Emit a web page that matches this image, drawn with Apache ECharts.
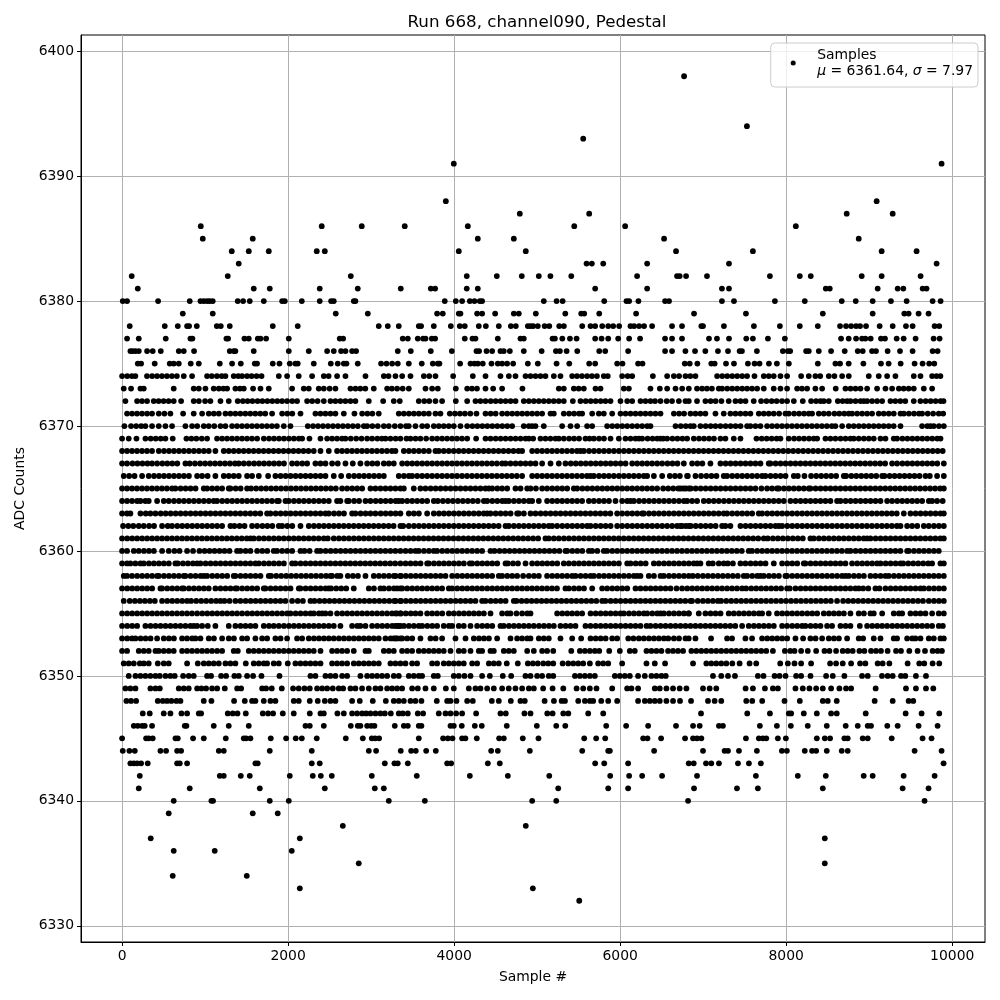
<!DOCTYPE html>
<html>
<head>
<meta charset="utf-8">
<title>Run 668, channel090, Pedestal</title>
<script src="https://cdn.jsdelivr.net/npm/echarts@6/dist/echarts.min.js"></script>
<style>
html, body { margin: 0; padding: 0; background: #fff; }
#chart { width: 1000px; height: 1000px; }
</style>
</head>
<body>
<div id="chart"></div>
<script>
var xTicks = [0, 2000, 4000, 6000, 8000, 10000];
var yTicks = [6330, 6340, 6350, 6360, 6370, 6380, 6390, 6400];

// sample numbers, one array per ADC level
var adc6398 = [6770];
var adc6394 = [7527];
var adc6393 = [5555];
var adc6391 = [3996, 9872];
var adc6388 = [3900, 9090];
var adc6387 = [4791, 5627, 8729, 9283];
var adc6386 = [948, 2405, 2887, 3405, 4165, 5447, 6060, 8116];
var adc6385 = [972, 1574, 4285, 4719, 6529, 8874];
var adc6384 = [1321, 1526, 1767, 2345, 2442, 4056, 4863, 6673, 7599, 9150, 9571];
var adc6383 = [1405, 5595, 5659, 5796, 6325, 7311, 9812];
var adc6382 = [116, 1273, 2755, 4152, 4514, 4815, 5020, 5160, 5411, 6204, 6685, 6717, 6794, 7046, 7804, 8164, 8296, 8910, 9150, 9619];
var adc6381 = [189, 1586, 1779, 2381, 2839, 3357, 3719, 3771, 4152, 4285, 5699, 6325, 7226, 7311, 8477, 8525, 9102, 9343, 9411, 9644, 9691];
var adc6380 = [8, 60, 434, 815, 944, 984, 1024, 1056, 1092, 1393, 1458, 1538, 1707, 1928, 1960, 2165, 2381, 2518, 2550, 2791, 2811, 3887, 4020, 4096, 4189, 4245, 4309, 4337, 5080, 5234, 5307, 5808, 6076, 6108, 6220, 6541, 6589, 7226, 7371, 7864, 8224, 8669, 8838, 9042, 9262, 9451, 9764, 9860];
var adc6379 = [731, 1092, 2574, 2960, 3795, 3863, 4056, 4076, 4277, 4337, 4494, 4719, 4779, 4984, 5339, 5531, 5567, 5748, 6192, 6890, 7515, 8441, 9042, 9423, 9475, 9595, 9715];
var adc6378 = [92, 514, 671, 783, 807, 900, 1141, 1189, 1297, 1815, 2116, 3092, 3201, 3333, 3574, 3602, 3755, 3960, 4068, 4128, 4297, 4382, 4538, 4683, 4743, 4888, 4920, 4952, 5008, 5090, 5146, 5266, 5322, 5543, 5643, 5699, 5784, 5856, 5916, 5988, 6124, 6168, 6228, 6288, 6385, 6625, 6745, 6978, 6998, 7250, 7611, 7924, 8164, 8381, 8649, 8721, 8782, 8842, 8890, 8962, 9126, 9283, 9443, 9523, 9788, 9844];
var adc6377 = [60, 201, 526, 823, 847, 1257, 1277, 1474, 1526, 1635, 1667, 1735, 2008, 2622, 2663, 3381, 3442, 3562, 3626, 3655, 3731, 3771, 4128, 4221, 4257, 4526, 4799, 4839, 5186, 5214, 5303, 5395, 5475, 5699, 5776, 5856, 5976, 6108, 6240, 6541, 6625, 6745, 7070, 7166, 7311, 7519, 7599, 7780, 7984, 8661, 8753, 8842, 8914, 8954, 9018, 9142, 9190, 9331, 9415, 9559, 9776, 9848];
var adc6376 = [100, 129, 161, 201, 301, 369, 466, 683, 743, 867, 1297, 1345, 1365, 1586, 2008, 2249, 2470, 2550, 2638, 2691, 2771, 2819, 3321, 3478, 3719, 3972, 4269, 4301, 4390, 4458, 4558, 4598, 4671, 4839, 5054, 5226, 5274, 5355, 5483, 5748, 5820, 6096, 6541, 6625, 6786, 6902, 7026, 7178, 7299, 7439, 7467, 7647, 7960, 8020, 8048, 8240, 8272, 8393, 8541, 8705, 8862, 8922, 9034, 9082, 9222, 9371, 9523, 9764, 9824];
var adc6375 = [189, 229, 393, 574, 622, 683, 827, 924, 1177, 1325, 1430, 1598, 1626, 1815, 1896, 2020, 2088, 2116, 2309, 2514, 2598, 2671, 2703, 2839, 3120, 3185, 3253, 3321, 3454, 3610, 3743, 3803, 3823, 4072, 4197, 4245, 4285, 4345, 4450, 4526, 4578, 4638, 4711, 4888, 5008, 5234, 5387, 5627, 5699, 5964, 6028, 6216, 6269, 6778, 6838, 6930, 7098, 7138, 7275, 7371, 7539, 7619, 7679, 7792, 7888, 8032, 8381, 8593, 8649, 8753, 8930, 9142, 9234, 9379, 9547, 9643, 9723, 9784];
var adc6374 = [0, 62, 118, 160, 300, 362, 421, 480, 540, 600, 660, 743, 843, 1024, 1080, 1142, 1200, 1245, 1345, 1400, 1446, 1506, 1560, 1620, 1680, 1888, 1988, 2128, 2289, 2430, 2488, 2590, 2691, 2932, 3153, 3210, 3293, 3374, 3474, 3635, 3700, 3775, 3988, 4225, 4378, 4558, 4659, 4739, 4860, 4920, 4980, 5040, 5100, 5201, 5281, 5422, 5480, 5540, 5602, 5660, 5720, 5803, 5851, 6024, 6090, 6145, 6394, 6566, 6647, 6710, 6787, 6845, 6907, 7168, 7230, 7290, 7350, 7410, 7470, 7529, 7618, 7730, 7790, 7850, 7931, 8011, 8180, 8272, 8352, 8410, 8513, 8581, 8674, 8754, 8995, 9115, 9216, 9316, 9537, 9618, 9758, 9810, 9858];
var adc6373 = [20, 108, 221, 261, 622, 863, 924, 1004, 1104, 1165, 1220, 1265, 1365, 1420, 1466, 1578, 1667, 1767, 2048, 2189, 2249, 2369, 2430, 2500, 2570, 2751, 2812, 2870, 2930, 3032, 3193, 3250, 3313, 3380, 3454, 3655, 3735, 3803, 4020, 4157, 4215, 4275, 4378, 4470, 4578, 4823, 5261, 5321, 5442, 5500, 5562, 5703, 5763, 6044, 6105, 6365, 6478, 6566, 6667, 6747, 6827, 6926, 6987, 7045, 7105, 7188, 7228, 7290, 7350, 7410, 7470, 7529, 7589, 7650, 7730, 7850, 7931, 8011, 8132, 8190, 8252, 8352, 8433, 8597, 8714, 8775, 8835, 8895, 8975, 9095, 9196, 9276, 9357, 9415, 9475, 9537, 9658, 9758];
var adc6372 = [40, 181, 240, 301, 381, 440, 500, 560, 622, 711, 863, 925, 1000, 1064, 1185, 1285, 1393, 1455, 1512, 1570, 1632, 1690, 1750, 1810, 1870, 1928, 1988, 2050, 2108, 2229, 2290, 2355, 2430, 2510, 2570, 2630, 2690, 2751, 2811, 2972, 3145, 3273, 3345, 3574, 3640, 3700, 3775, 3855, 4020, 4157, 4257, 4317, 4378, 4440, 4500, 4560, 4620, 4680, 4740, 4839, 4900, 4960, 5020, 5080, 5140, 5200, 5260, 5321, 5430, 5522, 5585, 5645, 5705, 5765, 5823, 5884, 6004, 6085, 6145, 6245, 6305, 6365, 6420, 6486, 6560, 6625, 6707, 6787, 6827, 6926, 7027, 7090, 7150, 7220, 7308, 7389, 7450, 7510, 7609, 7698, 7762, 7825, 7885, 7950, 8011, 8092, 8200, 8300, 8360, 8413, 8453, 8513, 8622, 8680, 8734, 8774, 8835, 8895, 8935, 8975, 9035, 9095, 9156, 9256, 9315, 9375, 9435, 9537, 9617, 9680, 9740, 9800, 9860, 9895];
var adc6371 = [60, 120, 180, 240, 301, 361, 442, 510, 582, 735, 863, 964, 1044, 1105, 1165, 1245, 1305, 1365, 1425, 1485, 1545, 1605, 1665, 1725, 1807, 1928, 1990, 2050, 2149, 2329, 2390, 2450, 2510, 2570, 2671, 2799, 2892, 2955, 3015, 3092, 3333, 3394, 3455, 3515, 3575, 3635, 3695, 3775, 3835, 3948, 4010, 4070, 4130, 4195, 4269, 4378, 4440, 4500, 4578, 4639, 4700, 4760, 4820, 4880, 4940, 5000, 5060, 5161, 5201, 5321, 5385, 5445, 5505, 5542, 5663, 5743, 5803, 5904, 6004, 6065, 6125, 6185, 6245, 6305, 6365, 6425, 6486, 6647, 6710, 6770, 6847, 6907, 6967, 7027, 7148, 7248, 7328, 7389, 7449, 7510, 7569, 7670, 7730, 7790, 7850, 7915, 7991, 8031, 8095, 8155, 8215, 8272, 8312, 8393, 8453, 8513, 8581, 8640, 8700, 8754, 8794, 8855, 8915, 8975, 9035, 9115, 9175, 9236, 9296, 9377, 9417, 9478, 9540, 9600, 9637, 9705, 9770, 9838, 9891];
var adc6370 = [28, 108, 170, 230, 281, 361, 442, 522, 602, 763, 843, 905, 984, 1044, 1110, 1185, 1245, 1325, 1385, 1445, 1505, 1565, 1625, 1685, 1745, 1805, 1865, 1948, 2028, 2237, 2300, 2360, 2420, 2480, 2540, 2600, 2660, 2720, 2780, 2840, 2912, 2952, 3015, 3080, 3153, 3213, 3285, 3353, 3420, 3454, 3534, 3615, 3675, 3755, 3815, 3875, 3935, 3996, 4076, 4157, 4220, 4280, 4340, 4400, 4460, 4520, 4580, 4640, 4699, 4839, 4900, 4940, 4980, 5080, 5301, 5402, 5482, 5602, 5663, 5843, 5905, 5965, 6025, 6085, 6145, 6205, 6265, 6325, 6365, 6667, 6730, 6790, 6847, 6887, 6967, 7030, 7090, 7148, 7208, 7270, 7330, 7390, 7450, 7529, 7569, 7630, 7690, 7770, 7830, 7890, 7950, 8010, 8070, 8130, 8190, 8250, 8310, 8370, 8430, 8490, 8550, 8593, 8674, 8754, 8814, 8875, 8935, 8995, 9055, 9115, 9175, 9235, 9295, 9377, 9637, 9700, 9738, 9778, 9840, 9899];
var adc6369 = [0, 80, 173, 281, 345, 405, 465, 522, 610, 775, 835, 895, 960, 1024, 1144, 1205, 1265, 1325, 1385, 1445, 1505, 1565, 1627, 1707, 1770, 1830, 1890, 1950, 2010, 2070, 2130, 2169, 2257, 2390, 2470, 2530, 2590, 2650, 2691, 2755, 2820, 2885, 2952, 3012, 3075, 3130, 3173, 3233, 3295, 3353, 3426, 3474, 3535, 3594, 3663, 3735, 3795, 3855, 3915, 3975, 4035, 4095, 4157, 4265, 4378, 4438, 4500, 4560, 4620, 4680, 4740, 4800, 4860, 4900, 4952, 5040, 5100, 5160, 5221, 5261, 5321, 5385, 5445, 5505, 5582, 5631, 5683, 5745, 5805, 5884, 5984, 6064, 6125, 6185, 6225, 6265, 6330, 6390, 6446, 6486, 6518, 6566, 6630, 6690, 6750, 6807, 6887, 6950, 7010, 7070, 7130, 7208, 7268, 7369, 7449, 7642, 7705, 7765, 7825, 7885, 7931, 8031, 8095, 8155, 8215, 8275, 8332, 8373, 8473, 8533, 8593, 8655, 8715, 8774, 8814, 8874, 8935, 8995, 9055, 9136, 9196, 9296, 9336, 9400, 9460, 9520, 9580, 9640, 9700, 9760, 9820, 9859];
var adc6368 = [0, 60, 120, 180, 240, 300, 361, 442, 505, 565, 625, 685, 745, 805, 865, 925, 985, 1044, 1124, 1225, 1285, 1345, 1405, 1465, 1525, 1585, 1645, 1705, 1765, 1825, 1885, 1945, 2005, 2065, 2125, 2185, 2245, 2309, 2390, 2490, 2590, 2650, 2710, 2770, 2830, 2890, 2950, 3010, 3070, 3130, 3190, 3250, 3293, 3394, 3455, 3515, 3575, 3635, 3695, 3775, 3815, 3875, 3935, 3995, 4055, 4115, 4175, 4235, 4295, 4355, 4415, 4475, 4535, 4595, 4655, 4715, 4775, 4819, 4940, 5000, 5060, 5120, 5180, 5240, 5300, 5360, 5420, 5480, 5522, 5562, 5625, 5685, 5745, 5805, 5865, 5925, 5985, 6045, 6105, 6165, 6225, 6285, 6345, 6405, 6465, 6525, 6585, 6645, 6705, 6765, 6825, 6885, 6945, 7005, 7065, 7125, 7185, 7245, 7305, 7365, 7425, 7485, 7545, 7605, 7665, 7725, 7785, 7845, 7905, 7965, 8025, 8085, 8145, 8205, 8265, 8325, 8385, 8445, 8505, 8565, 8625, 8685, 8745, 8805, 8865, 8925, 8985, 9045, 9105, 9165, 9225, 9285, 9345, 9405, 9465, 9525, 9585, 9645, 9705, 9765, 9825, 9885];
var adc6367 = [0, 60, 125, 185, 245, 305, 361, 422, 485, 545, 605, 665, 763, 815, 878, 940, 1000, 1060, 1120, 1180, 1240, 1300, 1360, 1406, 1466, 1528, 1590, 1650, 1710, 1770, 1830, 1890, 1950, 2048, 2108, 2170, 2229, 2329, 2390, 2450, 2530, 2598, 2691, 2779, 2871, 2952, 3015, 3075, 3153, 3213, 3273, 3374, 3435, 3495, 3554, 3615, 3675, 3735, 3795, 3855, 3915, 3975, 4035, 4095, 4155, 4215, 4275, 4335, 4395, 4455, 4515, 4578, 4619, 4679, 4740, 4800, 4860, 4920, 4980, 5060, 5161, 5261, 5341, 5405, 5465, 5525, 5585, 5645, 5705, 5765, 5825, 5885, 5945, 6005, 6065, 6145, 6205, 6265, 6325, 6385, 6446, 6506, 6570, 6630, 6690, 6767, 6867, 6930, 6990, 7087, 7208, 7270, 7330, 7390, 7450, 7510, 7570, 7630, 7690, 7790, 7810, 7872, 7932, 7992, 8052, 8112, 8172, 8232, 8292, 8352, 8412, 8472, 8532, 8592, 8652, 8712, 8772, 8832, 8892, 8952, 9012, 9072, 9132, 9192, 9276, 9336, 9400, 9460, 9520, 9580, 9640, 9700, 9760, 9820, 9899];
var adc6366 = [20, 85, 150, 241, 321, 385, 445, 505, 565, 625, 685, 745, 805, 904, 964, 1030, 1124, 1225, 1285, 1345, 1405, 1506, 1566, 1647, 1759, 1847, 1910, 1970, 2030, 2090, 2150, 2210, 2270, 2330, 2390, 2450, 2550, 2639, 2731, 2795, 2855, 2915, 2975, 3035, 3095, 3153, 3333, 3395, 3454, 3494, 3555, 3615, 3675, 3735, 3795, 3855, 3915, 3975, 4035, 4095, 4155, 4215, 4275, 4335, 4395, 4455, 4515, 4575, 4635, 4695, 4755, 4819, 4940, 5000, 5060, 5120, 5180, 5240, 5300, 5360, 5420, 5480, 5540, 5600, 5643, 5683, 5745, 5805, 5864, 5924, 5985, 6045, 6105, 6165, 6225, 6285, 6325, 6406, 6506, 6598, 6660, 6719, 6815, 6806, 6907, 6975, 7039, 7100, 7160, 7248, 7288, 7350, 7410, 7470, 7530, 7590, 7650, 7710, 7750, 7812, 7872, 7932, 7992, 8092, 8140, 8220, 8300, 8362, 8422, 8482, 8542, 8602, 8694, 8722, 8785, 8845, 8905, 8965, 9025, 9085, 9156, 9184, 9246, 9306, 9366, 9426, 9486, 9546, 9606, 9678, 9730, 9818, 9899];
var adc6365 = [0, 60, 120, 180, 240, 300, 360, 420, 480, 540, 602, 642, 705, 765, 825, 885, 984, 1024, 1085, 1145, 1205, 1285, 1305, 1368, 1428, 1506, 1554, 1615, 1675, 1735, 1795, 1855, 1915, 1975, 2035, 2095, 2155, 2215, 2275, 2335, 2395, 2455, 2515, 2575, 2650, 2711, 2772, 2832, 2892, 2992, 3052, 3113, 3173, 3233, 3293, 3353, 3394, 3514, 3594, 3655, 3717, 3777, 3837, 3897, 3957, 4017, 4077, 4137, 4197, 4257, 4317, 4377, 4418, 4458, 4520, 4578, 4639, 4739, 4800, 4880, 4920, 4985, 5060, 5120, 5182, 5242, 5302, 5362, 5442, 5482, 5545, 5605, 5665, 5725, 5785, 5845, 5905, 5965, 6025, 6085, 6145, 6205, 6265, 6325, 6385, 6446, 6518, 6579, 6640, 6700, 6760, 6827, 6726, 6790, 6850, 6910, 6970, 7030, 7090, 7150, 7210, 7270, 7330, 7390, 7450, 7510, 7570, 7630, 7702, 7770, 7830, 7890, 7911, 7972, 8032, 8092, 8152, 8212, 8272, 8292, 8354, 8414, 8474, 8534, 8594, 8654, 8714, 8774, 8834, 8894, 8954, 9014, 9074, 9134, 9194, 9254, 9314, 9374, 9434, 9494, 9554, 9614, 9674, 9734, 9794, 9854, 9899];
var adc6364 = [0, 60, 120, 181, 221, 280, 321, 422, 502, 562, 625, 685, 745, 805, 865, 925, 985, 1045, 1104, 1144, 1206, 1266, 1326, 1386, 1446, 1506, 1566, 1626, 1686, 1746, 1806, 1867, 1888, 1968, 2008, 2070, 2130, 2190, 2250, 2310, 2370, 2430, 2490, 2590, 2630, 2711, 2731, 2795, 2855, 2932, 2992, 3055, 3115, 3175, 3235, 3295, 3333, 3374, 3435, 3495, 3555, 3615, 3675, 3755, 3803, 3865, 3925, 3985, 4045, 4105, 4165, 4225, 4285, 4358, 4398, 4460, 4520, 4580, 4619, 4659, 4720, 4780, 4840, 4900, 4940, 5020, 5120, 5182, 5242, 5302, 5362, 5422, 5482, 5542, 5623, 5683, 5745, 5805, 5865, 5944, 6024, 6085, 6125, 6165, 6228, 6288, 6348, 6408, 6468, 6528, 6588, 6648, 6708, 6768, 6807, 6867, 6927, 7007, 7067, 7128, 7188, 7250, 7310, 7370, 7430, 7490, 7550, 7610, 7670, 7730, 7790, 7850, 7910, 7971, 8051, 8113, 8173, 8233, 8293, 8353, 8413, 8473, 8533, 8613, 8654, 8716, 8776, 8836, 8896, 8956, 9016, 9076, 9136, 9216, 9276, 9338, 9398, 9458, 9518, 9578, 9638, 9718, 9758, 9818, 9885];
var adc6363 = [0, 60, 100, 221, 285, 341, 402, 465, 525, 585, 645, 705, 765, 825, 885, 945, 1005, 1065, 1125, 1185, 1245, 1305, 1365, 1425, 1485, 1545, 1605, 1665, 1747, 1787, 1850, 1910, 1970, 2030, 2090, 2150, 2210, 2270, 2330, 2390, 2450, 2490, 2553, 2613, 2673, 2771, 2811, 2873, 2933, 2992, 3052, 3115, 3175, 3235, 3295, 3353, 3454, 3515, 3575, 3675, 3755, 3817, 3877, 3937, 3997, 4057, 4117, 4177, 4237, 4297, 4357, 4398, 4438, 4500, 4560, 4620, 4680, 4759, 4779, 4840, 4920, 4980, 5042, 5102, 5162, 5222, 5282, 5342, 5402, 5462, 5522, 5582, 5642, 5702, 5762, 5822, 5882, 5964, 6024, 6086, 6146, 6206, 6265, 6285, 6347, 6407, 6467, 6527, 6587, 6647, 6707, 6767, 6827, 6887, 6947, 7007, 7067, 7127, 7187, 7248, 7288, 7350, 7410, 7470, 7530, 7590, 7670, 7710, 7772, 7832, 7892, 7952, 8012, 8072, 8132, 8192, 8252, 8312, 8372, 8432, 8492, 8552, 8612, 8672, 8732, 8792, 8852, 8912, 8972, 9032, 9092, 9152, 9212, 9272, 9332, 9417, 9497, 9559, 9619, 9679, 9739, 9799, 9859, 9899];
var adc6362 = [12, 75, 135, 201, 261, 325, 385, 482, 550, 602, 665, 725, 785, 845, 905, 965, 1025, 1085, 1145, 1205, 1305, 1353, 1415, 1475, 1566, 1627, 1690, 1750, 1810, 1888, 1928, 1990, 2050, 2149, 2249, 2311, 2371, 2431, 2491, 2551, 2611, 2671, 2731, 2791, 2851, 2911, 2971, 3031, 3091, 3151, 3211, 3271, 3353, 3386, 3454, 3516, 3576, 3636, 3696, 3756, 3816, 3876, 3936, 3996, 4056, 4116, 4176, 4236, 4296, 4356, 4416, 4476, 4536, 4619, 4659, 4720, 4780, 4840, 4900, 4960, 5020, 5080, 5140, 5181, 5241, 5303, 5363, 5423, 5483, 5543, 5602, 5643, 5705, 5765, 5825, 5885, 5964, 6024, 6086, 6146, 6206, 6266, 6326, 6386, 6446, 6506, 6566, 6626, 6686, 6746, 6827, 6726, 6790, 6850, 6910, 6970, 7030, 7090, 7150, 7228, 7268, 7328, 7449, 7511, 7571, 7631, 7691, 7751, 7811, 7871, 7911, 7951, 8013, 8073, 8133, 8193, 8253, 8313, 8373, 8433, 8493, 8553, 8613, 8673, 8733, 8793, 8853, 8913, 8973, 9033, 9093, 9153, 9213, 9273, 9333, 9377, 9457, 9517, 9579, 9658, 9718, 9780, 9840, 9899];
var adc6361 = [0, 62, 122, 182, 242, 302, 362, 422, 482, 542, 602, 662, 722, 782, 842, 902, 962, 1022, 1082, 1142, 1202, 1262, 1322, 1382, 1442, 1502, 1546, 1586, 1648, 1708, 1768, 1828, 1888, 1948, 2008, 2068, 2128, 2188, 2248, 2308, 2368, 2430, 2478, 2550, 2612, 2672, 2732, 2792, 2852, 2912, 2972, 3032, 3092, 3152, 3212, 3272, 3332, 3392, 3452, 3512, 3572, 3632, 3692, 3752, 3812, 3872, 3932, 3992, 4052, 4112, 4172, 4232, 4292, 4352, 4412, 4472, 4532, 4592, 4652, 4712, 4772, 4832, 4892, 4952, 5012, 5100, 5140, 5201, 5261, 5323, 5383, 5443, 5503, 5563, 5623, 5683, 5743, 5803, 5863, 5923, 5983, 6043, 6103, 6163, 6223, 6283, 6343, 6403, 6463, 6523, 6583, 6643, 6703, 6763, 6823, 6883, 6943, 7003, 7063, 7123, 7183, 7243, 7303, 7363, 7423, 7483, 7543, 7603, 7663, 7730, 7778, 7840, 7900, 7960, 8020, 8080, 8140, 8200, 8292, 8332, 8394, 8454, 8514, 8574, 8634, 8694, 8754, 8814, 8874, 8934, 8975, 9015, 9077, 9137, 9197, 9257, 9317, 9377, 9437, 9497, 9557, 9617, 9677, 9737, 9797, 9857, 9899];
var adc6360 = [0, 60, 141, 201, 263, 323, 383, 482, 562, 630, 692, 783, 855, 932, 994, 1054, 1114, 1174, 1234, 1294, 1385, 1426, 1488, 1546, 1627, 1689, 1749, 1827, 1867, 1929, 1989, 2049, 2149, 2197, 2259, 2349, 2390, 2452, 2512, 2572, 2632, 2692, 2752, 2812, 2872, 2932, 2992, 3052, 3112, 3172, 3232, 3292, 3353, 3415, 3475, 3534, 3574, 3636, 3696, 3755, 3795, 3857, 3917, 3977, 4037, 4097, 4157, 4217, 4277, 4337, 4438, 4486, 4548, 4608, 4668, 4728, 4788, 4848, 4908, 4968, 5028, 5088, 5148, 5208, 5268, 5341, 5362, 5424, 5484, 5544, 5623, 5663, 5725, 5803, 5843, 5905, 5965, 6025, 6085, 6145, 6205, 6265, 6325, 6385, 6445, 6505, 6565, 6625, 6685, 6745, 6805, 6865, 6925, 6985, 7045, 7105, 7165, 7225, 7285, 7345, 7405, 7465, 7549, 7589, 7651, 7711, 7771, 7831, 7891, 7951, 8011, 8071, 8131, 8191, 8251, 8311, 8371, 8431, 8491, 8551, 8611, 8671, 8734, 8774, 8836, 8896, 8956, 9016, 9076, 9136, 9196, 9256, 9316, 9376, 9457, 9477, 9539, 9599, 9659, 9719, 9779, 9838];
var adc6359 = [0, 60, 100, 160, 221, 261, 323, 383, 443, 503, 563, 642, 671, 733, 793, 853, 904, 944, 1006, 1066, 1126, 1186, 1246, 1306, 1366, 1426, 1486, 1546, 1606, 1647, 1709, 1769, 1829, 1889, 1949, 2048, 2088, 2150, 2210, 2270, 2330, 2390, 2450, 2510, 2570, 2630, 2690, 2750, 2810, 2870, 2930, 2990, 3050, 3110, 3170, 3230, 3290, 3353, 3415, 3475, 3535, 3595, 3675, 3695, 3757, 3817, 3877, 3937, 3997, 4057, 4117, 4189, 4217, 4279, 4339, 4399, 4459, 4519, 4619, 4647, 4709, 4769, 4860, 4940, 5002, 5062, 5122, 5182, 5242, 5321, 5382, 5444, 5504, 5564, 5624, 5684, 5744, 5804, 5864, 5924, 5984, 6085, 6125, 6187, 6247, 6307, 6406, 6466, 6528, 6588, 6648, 6708, 6768, 6827, 6887, 6927, 6967, 7067, 7116, 7188, 7248, 7296, 7358, 7449, 7509, 7571, 7631, 7691, 7751, 7851, 7951, 8013, 8073, 8133, 8212, 8232, 8294, 8354, 8414, 8474, 8534, 8594, 8654, 8714, 8794, 8856, 8916, 8976, 9036, 9095, 9136, 9198, 9258, 9318, 9377, 9409, 9471, 9531, 9591, 9651, 9711, 9758, 9858, 9899];
var adc6358 = [20, 60, 120, 182, 242, 302, 362, 422, 442, 504, 564, 624, 684, 743, 763, 825, 885, 945, 984, 1024, 1086, 1146, 1206, 1266, 1345, 1365, 1427, 1487, 1547, 1607, 1667, 1767, 1795, 1857, 1917, 1977, 2037, 2097, 2157, 2217, 2277, 2337, 2397, 2457, 2510, 2530, 2592, 2630, 2719, 2781, 2841, 2932, 3032, 3094, 3154, 3214, 3274, 3353, 3295, 3357, 3417, 3477, 3537, 3597, 3657, 3717, 3777, 3837, 3896, 3976, 4038, 4098, 4158, 4218, 4278, 4338, 4398, 4458, 4538, 4578, 4640, 4700, 4759, 4831, 4900, 4962, 5020, 5120, 5182, 5242, 5302, 5362, 5422, 5462, 5524, 5584, 5643, 5683, 5745, 5805, 5865, 5925, 5985, 6045, 6105, 6165, 6205, 6245, 6345, 6407, 6486, 6526, 6588, 6648, 6708, 6768, 6826, 6875, 6935, 6997, 7057, 7117, 7177, 7237, 7297, 7357, 7417, 7489, 7529, 7591, 7651, 7690, 7730, 7792, 7852, 7912, 7991, 8011, 8073, 8133, 8193, 8253, 8313, 8373, 8433, 8493, 8553, 8613, 8673, 8714, 8754, 8816, 8876, 8936, 9015, 9075, 9137, 9196, 9236, 9298, 9358, 9418, 9478, 9538, 9598, 9658, 9718, 9778, 9838, 9899];
var adc6357 = [0, 62, 122, 182, 242, 302, 362, 462, 482, 544, 604, 664, 723, 743, 805, 865, 925, 985, 1044, 1124, 1186, 1246, 1306, 1365, 1385, 1447, 1507, 1567, 1627, 1707, 1727, 1789, 1849, 1909, 1969, 2029, 2129, 2149, 2211, 2271, 2331, 2391, 2451, 2490, 2518, 2580, 2640, 2700, 2791, 2972, 3034, 3112, 3153, 3215, 3275, 3353, 3313, 3375, 3435, 3495, 3555, 3615, 3675, 3735, 3795, 3855, 3936, 3976, 4038, 4098, 4158, 4218, 4277, 4337, 4399, 4459, 4519, 4579, 4639, 4699, 4759, 4819, 4879, 4939, 4999, 5059, 5119, 5179, 5239, 5341, 5382, 5444, 5504, 5564, 5663, 5783, 5843, 5905, 5965, 6025, 6085, 6185, 6245, 6307, 6367, 6427, 6487, 6547, 6607, 6679, 6746, 6808, 6868, 6928, 6988, 7048, 7108, 7168, 7228, 7288, 7348, 7408, 7469, 7517, 7579, 7639, 7699, 7759, 7819, 7879, 7939, 8011, 8043, 8112, 8174, 8234, 8294, 8354, 8414, 8474, 8534, 8594, 8654, 8714, 8774, 8834, 8875, 8927, 8989, 9075, 9124, 9196, 9258, 9318, 9378, 9438, 9498, 9558, 9618, 9658, 9720, 9780, 9840, 9899];
var adc6356 = [20, 92, 154, 214, 274, 334, 394, 482, 544, 604, 664, 724, 783, 831, 893, 953, 1013, 1073, 1133, 1185, 1233, 1295, 1365, 1426, 1488, 1548, 1608, 1668, 1728, 1788, 1848, 1908, 1968, 2048, 2116, 2178, 2269, 2317, 2379, 2439, 2499, 2559, 2619, 2679, 2739, 2799, 2859, 2919, 2979, 3039, 3099, 3159, 3219, 3279, 3353, 3295, 3357, 3417, 3477, 3537, 3597, 3657, 3717, 3777, 3837, 3897, 3957, 4017, 4077, 4137, 4197, 4257, 4337, 4378, 4440, 4500, 4560, 4620, 4719, 4751, 4813, 4873, 4933, 4993, 5053, 5113, 5173, 5233, 5293, 5353, 5413, 5473, 5533, 5593, 5653, 5713, 5783, 5823, 5885, 5945, 6005, 6065, 6125, 6185, 6245, 6305, 6365, 6425, 6485, 6545, 6605, 6665, 6725, 6785, 6847, 6866, 6935, 6997, 7057, 7117, 7176, 7216, 7278, 7338, 7398, 7458, 7518, 7578, 7638, 7698, 7758, 7818, 7878, 7938, 7998, 8058, 8118, 8178, 8238, 8298, 8358, 8418, 8478, 8538, 8613, 8686, 8748, 8808, 8868, 8928, 8988, 9048, 9108, 9168, 9228, 9288, 9348, 9408, 9468, 9528, 9588, 9648, 9718, 9780, 9840, 9899];
var adc6355 = [0, 62, 122, 182, 242, 302, 362, 422, 482, 542, 602, 662, 722, 782, 842, 904, 966, 1026, 1086, 1146, 1206, 1266, 1326, 1385, 1446, 1508, 1568, 1628, 1688, 1748, 1808, 1868, 1928, 1988, 2028, 2090, 2150, 2210, 2269, 2309, 2371, 2410, 2450, 2510, 2590, 2652, 2712, 2772, 2832, 2892, 2952, 3012, 3072, 3132, 3192, 3252, 3312, 3353, 3295, 3357, 3417, 3477, 3534, 3594, 3675, 3735, 3795, 3857, 3936, 3996, 4058, 4118, 4178, 4238, 4298, 4358, 4438, 4578, 4640, 4679, 4751, 4819, 4881, 4920, 5241, 5303, 5363, 5422, 5482, 5542, 5643, 5705, 5765, 5825, 5885, 5945, 6004, 6044, 6106, 6166, 6226, 6285, 6325, 6387, 6447, 6486, 6526, 6588, 6648, 6708, 6768, 6827, 6826, 6947, 7027, 7089, 7149, 7209, 7308, 7369, 7431, 7491, 7551, 7611, 7671, 7710, 7790, 7890, 7952, 8012, 8072, 8132, 8192, 8254, 8314, 8373, 8453, 8515, 8575, 8635, 8695, 8774, 8874, 8936, 9015, 9055, 9156, 9296, 9358, 9397, 9497, 9559, 9618, 9678, 9758, 9838, 9899];
var adc6354 = [0, 62, 122, 181, 281, 343, 403, 463, 523, 583, 643, 703, 763, 823, 863, 904, 964, 1032, 1124, 1285, 1365, 1427, 1487, 1547, 1606, 1707, 1769, 1827, 1888, 1950, 2010, 2070, 2130, 2190, 2250, 2310, 2370, 2430, 2490, 2550, 2630, 2771, 2833, 2871, 2932, 3012, 3074, 3134, 3194, 3254, 3314, 3353, 3293, 3333, 3395, 3455, 3515, 3574, 3615, 3677, 3737, 3795, 3875, 3937, 3976, 4056, 4116, 4197, 4277, 4339, 4399, 4459, 4558, 4598, 4660, 4720, 4780, 4840, 4900, 4960, 5022, 5082, 5142, 5201, 5281, 5343, 5402, 5462, 5582, 5643, 5705, 5765, 5825, 5885, 5945, 6005, 6065, 6125, 6185, 6245, 6318, 6365, 6427, 6487, 6547, 6607, 6667, 6727, 6787, 6847, 6907, 6967, 7027, 7087, 7147, 7207, 7267, 7327, 7387, 7469, 7549, 7611, 7671, 7731, 7791, 7851, 7951, 8011, 8073, 8133, 8192, 8232, 8294, 8354, 8413, 8493, 8553, 8654, 8716, 8774, 8887, 8975, 9037, 9097, 9156, 9216, 9278, 9338, 9398, 9458, 9518, 9578, 9638, 9698, 9758, 9838, 9887];
var adc6353 = [0, 62, 120, 161, 223, 283, 343, 422, 502, 564, 624, 723, 783, 845, 884, 944, 1044, 1106, 1205, 1285, 1347, 1446, 1506, 1606, 1687, 1747, 1847, 1909, 1988, 2108, 2169, 2249, 2311, 2371, 2431, 2490, 2550, 2612, 2672, 2732, 2792, 2852, 2912, 2972, 3032, 3092, 3173, 3235, 3295, 3353, 3273, 3313, 3375, 3435, 3495, 3594, 3715, 3777, 3855, 4016, 4137, 4237, 4299, 4359, 4419, 4518, 4679, 4759, 4819, 4881, 4920, 5020, 5080, 5140, 5281, 5422, 5530, 5643, 5705, 5765, 5825, 5904, 5964, 6098, 6160, 6225, 6285, 6347, 6407, 6467, 6527, 6579, 6647, 6709, 6787, 6826, 6907, 7095, 7288, 7348, 7509, 7589, 7710, 7772, 7832, 7892, 7952, 8012, 8112, 8204, 8292, 8354, 8433, 8513, 8575, 8635, 8734, 8874, 8927, 9055, 9136, 9296, 9336, 9457, 9519, 9557, 9618, 9718, 9778, 9858, 9899];
var adc6352 = [0, 60, 201, 261, 321, 402, 442, 502, 562, 622, 723, 783, 843, 904, 964, 1024, 1084, 1145, 1205, 1345, 1394, 1526, 1586, 1647, 1707, 1767, 1827, 1888, 1948, 2008, 2068, 2129, 2189, 2249, 2309, 2390, 2530, 2590, 2650, 2711, 2791, 2932, 2972, 3153, 3213, 3273, 3373, 3434, 3494, 3574, 3635, 3695, 3755, 3815, 3875, 3956, 4056, 4116, 4197, 4297, 4337, 4438, 4478, 4598, 4658, 4719, 4880, 4960, 5060, 5120, 5194, 5411, 5515, 5575, 5635, 5695, 5748, 5868, 5996, 6116, 6176, 6317, 6377, 6437, 6497, 6577, 6637, 6697, 6758, 6858, 6918, 6978, 7038, 7098, 7158, 7218, 7279, 7339, 7399, 7459, 7519, 7579, 7639, 7700, 7760, 7840, 7984, 8048, 8100, 8180, 8260, 8361, 8461, 8521, 8601, 8681, 8741, 8801, 8882, 8942, 9022, 9082, 9142, 9222, 9323, 9383, 9483, 9583, 9672, 9764, 9824, 9876];
var adc6351 = [20, 80, 141, 213, 261, 321, 430, 502, 562, 783, 912, 984, 1044, 1104, 1165, 1245, 1305, 1365, 1490, 1586, 1647, 1707, 1747, 1827, 1888, 1996, 2088, 2149, 2209, 2269, 2329, 2390, 2530, 2590, 2650, 2711, 2791, 2851, 2912, 2972, 3032, 3092, 3233, 3293, 3353, 3414, 3494, 3554, 3735, 3795, 3875, 3936, 3996, 4056, 4116, 4217, 4277, 4418, 4478, 4538, 4634, 4767, 4888, 4948, 5008, 5074, 5134, 5194, 5307, 5375, 5435, 5495, 5555, 5635, 5735, 5796, 5856, 6024, 6317, 6417, 6541, 6878, 7038, 7098, 7158, 7218, 7279, 7351, 7439, 7559, 7639, 7928, 8020, 8100, 8180, 8300, 8529, 8601, 8681, 8782, 8890, 8954, 9102, 9162, 9243, 9463, 9603, 9663, 9764, 9844];
var adc6350 = [80, 161, 221, 281, 341, 402, 454, 522, 582, 634, 735, 803, 863, 1024, 1072, 1193, 1253, 1353, 1406, 1506, 1578, 1679, 1896, 2269, 2329, 2450, 2510, 2570, 2651, 2711, 2871, 2952, 3012, 3072, 3132, 3193, 3273, 3333, 3454, 3514, 3574, 3614, 3755, 3803, 3996, 4056, 4124, 4197, 4337, 4430, 4586, 4687, 4859, 4920, 5000, 5060, 5140, 5194, 5455, 5515, 5575, 5635, 5695, 5936, 5996, 6056, 6116, 6216, 6297, 6377, 6437, 6497, 6549, 7118, 7218, 7299, 7383, 7659, 7727, 7860, 7920, 7992, 8120, 8180, 8293, 8481, 8561, 8701, 8914, 8982, 9154, 9222, 9283, 9383, 9435, 9563, 9684];
var adc6349 = [40, 100, 161, 341, 402, 454, 683, 743, 803, 904, 956, 1012, 1084, 1145, 1237, 1386, 1434, 1687, 1735, 1803, 1924, 2060, 2128, 2197, 2261, 2349, 2410, 2470, 2538, 2610, 2663, 2751, 2811, 2891, 2972, 3052, 3112, 3193, 3253, 3313, 3373, 3494, 3562, 3655, 3755, 3900, 3996, 4177, 4257, 4317, 4398, 4478, 4578, 4658, 4739, 4819, 4900, 4960, 5072, 5186, 5315, 5475, 5555, 5635, 5715, 5904, 6084, 6136, 6216, 6417, 6477, 6557, 6637, 6717, 6798, 6998, 7078, 7158, 7511, 7599, 7744, 7840, 7900, 8112, 8200, 8280, 8361, 8441, 8541, 8641, 8721, 8782, 9078, 9443, 9563, 9684, 9772];
var adc6348 = [52, 108, 169, 430, 490, 542, 594, 655, 703, 984, 1076, 1349, 1478, 1566, 1606, 1707, 1787, 1847, 2068, 2128, 2261, 2357, 2442, 2510, 2570, 2771, 2863, 3020, 3177, 3273, 3333, 3394, 3474, 3534, 3606, 3791, 3916, 3956, 4028, 4157, 4225, 4454, 4538, 4683, 4799, 4851, 5090, 5202, 5295, 5335, 5495, 5575, 5635, 5675, 5772, 5856, 5964, 6216, 6297, 6357, 6417, 6477, 6557, 6637, 6721, 6854, 7058, 7138, 7218, 7519, 7591, 7711, 7980, 8164, 8441, 8501, 8609, 9066, 9283, 9475, 9531];
var adc6347 = [249, 333, 502, 582, 715, 783, 924, 952, 1273, 1333, 1390, 1490, 1695, 1759, 1819, 1936, 2068, 2261, 2390, 2430, 2594, 2671, 2771, 2831, 2891, 2940, 2992, 3052, 3112, 3165, 3237, 3333, 3381, 3442, 3562, 3626, 3815, 3896, 3956, 4024, 4096, 4265, 4558, 4622, 4847, 4920, 5122, 5186, 5315, 5375, 5615, 5796, 6974, 7531, 7804, 8032, 8060, 8212, 8369, 8541, 8609, 8958, 9439, 9631, 9844];
var adc6346 = [141, 189, 241, 273, 361, 755, 775, 1104, 1285, 1526, 2209, 2261, 2430, 2755, 2839, 2871, 2952, 3000, 3040, 3285, 3394, 3442, 3574, 3606, 3956, 3996, 4092, 4249, 4333, 4634, 4996, 5230, 5339, 5832, 6072, 6337, 6673, 6878, 6958, 7190, 7238, 7683, 7888, 8056, 8260, 8489, 8717, 8862, 8982, 9022, 9218, 9343, 9595, 9824];
var adc6345 = [0, 289, 321, 369, 643, 671, 855, 984, 1249, 1466, 1494, 1546, 1791, 1976, 2092, 2165, 2345, 2695, 2900, 3008, 3048, 3096, 3574, 3867, 3924, 3980, 4096, 4136, 4273, 4542, 4598, 4827, 5016, 5567, 5711, 5820, 6277, 6329, 6493, 6782, 6878, 6926, 6978, 7515, 7671, 7719, 7760, 7900, 7996, 8369, 8465, 8529, 8701, 8741, 8922, 8982, 9271, 9643, 9751];
var adc6344 = [8, 88, 153, 462, 530, 663, 711, 1165, 1225, 1779, 2285, 2972, 3060, 3357, 3482, 3538, 3663, 3779, 4446, 4526, 4912, 5543, 5856, 5876, 6409, 6998, 7258, 7299, 7431, 7647, 7948, 8008, 8224, 8312, 8361, 8489, 8669, 8741, 9547, 9872];
var adc6343 = [100, 141, 181, 229, 309, 663, 695, 783, 1606, 1634, 2285, 2381, 3165, 3281, 3321, 3442, 3916, 3964, 4406, 4550, 5699, 5808, 6096, 6826, 6886, 7034, 7098, 7190, 7419, 7551, 7695, 9896];
var adc6342 = [213, 1177, 1225, 1430, 1538, 2020, 2297, 2394, 2526, 3008, 3550, 4189, 4647, 5146, 5880, 6108, 6265, 6505, 6926, 7635, 8140, 8477, 8934, 9042, 9415, 9788];
var adc6341 = [201, 815, 1659, 2442, 3044, 3153, 5254, 5856, 6096, 6890, 7407, 7659, 8441, 9403, 9715];
var adc6340 = [622, 1076, 1096, 1779, 2008, 3213, 3647, 4940, 5230, 6818, 9667];
var adc6339 = [562, 1574, 1875];
var adc6338 = [2659, 4863];
var adc6337 = [345, 2141, 8465];
var adc6336 = [622, 1116, 2044];
var adc6335 = [2851, 8465];
var adc6334 = [610, 1502];
var adc6333 = [2141, 4948];
var adc6332 = [5507];

var levels = [
    [6398, adc6398], [6394, adc6394], [6393, adc6393], [6391, adc6391], [6388, adc6388], [6387, adc6387],
    [6386, adc6386], [6385, adc6385], [6384, adc6384], [6383, adc6383], [6382, adc6382], [6381, adc6381],
    [6380, adc6380], [6379, adc6379], [6378, adc6378], [6377, adc6377], [6376, adc6376], [6375, adc6375],
    [6374, adc6374], [6373, adc6373], [6372, adc6372], [6371, adc6371], [6370, adc6370], [6369, adc6369],
    [6368, adc6368], [6367, adc6367], [6366, adc6366], [6365, adc6365], [6364, adc6364], [6363, adc6363],
    [6362, adc6362], [6361, adc6361], [6360, adc6360], [6359, adc6359], [6358, adc6358], [6357, adc6357],
    [6356, adc6356], [6355, adc6355], [6354, adc6354], [6353, adc6353], [6352, adc6352], [6351, adc6351],
    [6350, adc6350], [6349, adc6349], [6348, adc6348], [6347, adc6347], [6346, adc6346], [6345, adc6345],
    [6344, adc6344], [6343, adc6343], [6342, adc6342], [6341, adc6341], [6340, adc6340], [6339, adc6339],
    [6338, adc6338], [6337, adc6337], [6336, adc6336], [6335, adc6335], [6334, adc6334], [6333, adc6333],
    [6332, adc6332]
];

var points = [];
levels.forEach(function (lv) {
    lv[1].forEach(function (s) {
        points.push([s, lv[0]]);
    });
});

var font = 'DejaVu Sans';
var myChart = echarts.init(document.getElementById('chart'), null, {renderer: 'canvas'});
myChart.setOption({
    animation: false,
    title: {
        text: 'Run 668, channel090, Pedestal',
        left: 532, top: 9, textAlign: 'center',
        textStyle: {fontFamily: font, fontSize: 16.7, fontWeight: 'normal', color: '#000'}
    },
    legend: {
        right: 22, top: 43,
        padding: [4, 5, 8, 20],
        itemWidth: 38, itemHeight: 5,
        backgroundColor: 'rgba(255,255,255,0.8)',
        borderColor: '#ccc', borderWidth: 1, borderRadius: 4,
        data: [{name: 'Samples', icon: 'circle'}],
        formatter: function () {
            return 'Samples\n{i|μ} = 6361.64, {i|σ} = 7.97';
        },
        textStyle: {
            fontFamily: font, fontSize: 13.9, color: '#000', lineHeight: 16,
            rich: {i: {fontFamily: font, fontStyle: 'italic', fontSize: 13.9, lineHeight: 16}}
        }
    },
    grid: {
        left: 81, right: 15, top: 35, bottom: 58,
        outerBoundsMode: 'none',
        show: true, borderColor: '#000', borderWidth: 1
    },
    xAxis: {
        type: 'value', min: -495, max: 10395,
        name: 'Sample #', nameLocation: 'middle', nameGap: 28,
        nameTextStyle: {fontFamily: font, fontSize: 13.9, color: '#000'},
        axisLine: {show: true, onZero: false, lineStyle: {color: '#000', width: 1}},
        axisTick: {show: true, inside: false, length: 4, customValues: xTicks, lineStyle: {color: '#000', width: 1}},
        axisLabel: {
            customValues: xTicks, margin: 7,
            formatter: function (v) { return String(v); },
            fontFamily: font, fontSize: 13.9, color: '#000'
        },
        splitLine: {show: true, lineStyle: {color: '#b0b0b0', width: 1}}
    },
    yAxis: {
        type: 'value', min: 6328.7, max: 6401.3,
        name: 'ADC Counts', nameLocation: 'middle', nameGap: 54,
        nameTextStyle: {fontFamily: font, fontSize: 13.9, color: '#000'},
        axisLine: {show: true, onZero: false, lineStyle: {color: '#000', width: 1}},
        axisTick: {show: true, inside: false, length: 4, customValues: yTicks, lineStyle: {color: '#000', width: 1}},
        axisLabel: {
            customValues: yTicks, margin: 7,
            formatter: function (v) { return String(v); },
            fontFamily: font, fontSize: 13.9, color: '#000'
        },
        splitLine: {show: true, lineStyle: {color: '#b0b0b0', width: 1}}
    },
    series: [{
        name: 'Samples',
        type: 'scatter',
        symbol: 'circle',
        symbolSize: 5.8,
        itemStyle: {color: '#000', opacity: 1},
        silent: true,
        data: points
    }]
});
</script>
</body>
</html>
